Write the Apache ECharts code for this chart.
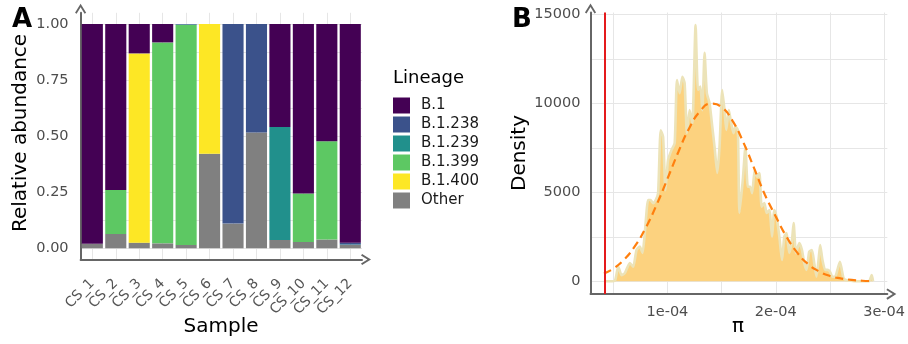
<!DOCTYPE html>
<html><head><meta charset="utf-8">
<script src="https://cdn.jsdelivr.net/npm/echarts/dist/echarts.min.js"></script>
<style>html,body{margin:0;padding:0;background:#fff}#c{width:908px;height:344px}</style>
</head><body><div id="c"></div>
<script>
// ---------- Panel A data ----------
const samples = ['CS_1','CS_2','CS_3','CS_4','CS_5','CS_6','CS_7','CS_8','CS_9','CS_10','CS_11','CS_12'];
const legendOrder = ['B.1','B.1.238','B.1.239','B.1.399','B.1.400','Other'];
const abOther  = [0.020,0.064,0.025,0.022,0.015,0.422,0.110,0.516,0.037,0.028,0.039,0.015];
const abB1400  = [0,0,0.844,0,0,0.578,0,0,0,0,0,0];
const abB1399  = [0,0.196,0,0.896,0.981,0,0,0,0,0.216,0.438,0];
const abB1239  = [0,0,0,0,0.002,0,0,0,0.504,0,0,0.002];
const abB1238  = [0,0,0,0,0.002,0,0.890,0.484,0,0,0,0.008];
const abB1     = [0.980,0.740,0.131,0.082,0,0,0,0,0.459,0.756,0.523,0.975];
const yLabelsA = [0,0.25,0.5,0.75,1];
const yGridA   = [0,0.125,0.25,0.375,0.5,0.625,0.75,0.875,1];

// ---------- Panel B data (pi in units of 1e-4) ----------
const piE4 = [0.414,0.469,0.515,0.546,0.577,0.607,0.653,0.684,0.715,0.745,
  0.770,0.791,0.822,0.844,0.868,0.892,0.914,0.938,0.960,0.982,
  1.006,1.037,1.067,1.088,1.113,1.138,1.159,1.180,1.205,1.230,
  1.260,1.282,1.304,1.322,1.343,1.364,1.389,1.414,1.435,1.460,
  1.481,1.506,1.527,1.543,1.567,1.589,1.610,1.628,1.650,1.665,
  1.696,1.720,1.742,1.764,1.782,1.806,1.828,1.849,1.870,1.895,
  1.916,1.941,1.966,1.987,2.008,2.033,2.058,2.079,2.100,2.125,
  2.150,2.165,2.187,2.217,2.242,2.263,2.284,2.309,2.334,2.355,
  2.376,2.395,2.410,2.431,2.456,2.477,2.500,2.523,2.548,2.569,
  2.592,2.610,2.625,2.647,2.677,2.739,2.831,2.861,2.886,2.898];
const density = [0,0,30,820,350,460,1030,820,1760,1950,
  1600,2700,4570,4570,4400,4570,4960,8500,8130,5130,
  6820,7380,7770,11320,10580,11510,11130,8330,9630,8890,
  14410,10760,10950,9630,12850,10580,10020,8700,7560,6100,
  7560,10760,9630,8510,9630,8890,8330,8700,8510,3840,
  5700,7570,5320,5320,4960,6260,5880,6090,4200,4400,
  3840,4010,2510,4010,3630,2510,1200,2510,2710,1590,
  2320,3270,1590,2150,1760,1030,640,1670,1760,1030,
  260,1200,2040,1200,640,640,540,260,260,640,
  1100,640,190,70,50,0,0,0,350,0];
const normPiE4 = [0.414,0.5,0.6,0.7,0.8,0.9,1.0,1.1,1.2,1.3,1.4,1.5,1.6,1.7,1.8,1.9,2.0,2.1,2.2,2.3,2.4,2.5,2.6,2.7,2.8,2.9];
const normDens = [440,710,1220,1980,3010,4300,5760,7260,8600,9560,9990,9800,9040,7830,6370,4870,3650,2500,1600,960,560,300,160,80,30,12];
const refPiE4 = [0.417];
const xLabelsB = [1,2,3];
const xGridB = [0.5,1,1.5,2,2.5,3];
const yLabelsB = [0,5000,10000,15000];
const yGridB = [0,2500,5000,7500,10000,12500,15000];

// ---------- styling ----------
const FONT = 'DejaVu Sans';
const AX = '#666666';
const GRID = '#e6e6e6';
const TICK = '#4d4d4d';
const colorMap = {'B.1':'#440154','B.1.238':'#3B528B','B.1.239':'#21908C','B.1.399':'#5DC863','B.1.400':'#FDE725','Other':'#808080'};
const chevron = 'path://M5,0 L10,8 L8.6,9 L5,3.2 L1.4,9 L0,8 Z';
const axisLineArrow = {show:true, onZero:false, lineStyle:{color:AX, width:2}, symbol:['none', chevron], symbolSize:[13,10], symbolOffset:[0,4]};

const stackSeries = [
  ['Other', abOther], ['B.1.400', abB1400], ['B.1.399', abB1399],
  ['B.1.239', abB1239], ['B.1.238', abB1238], ['B.1', abB1]
].map(([name, vals]) => ({
  name, type:'bar', stack:'ab', xAxisIndex:0, yAxisIndex:0, barWidth:'90%',
  itemStyle:{color:colorMap[name]}, data:vals
}));

const chart = echarts.init(document.getElementById('c'), null, {renderer:'canvas'});
chart.setOption({
  animation:false,
  backgroundColor:'#ffffff',
  textStyle:{fontFamily:FONT},
  grid:[
    {left:80.6, top:12.8, width:281.4, height:246.7},
    {left:590.5, top:12.5, width:298, height:281.6}
  ],
  legend:{
    data:legendOrder, orient:'vertical', left:393, top:97.5, padding:0,
    itemWidth:17, itemHeight:16, itemGap:3, icon:'rect',
    textStyle:{fontFamily:FONT, fontSize:15, color:'#1a1a1a', padding:[0,0,0,6]}
  },
  xAxis:[
    {type:'category', gridIndex:0, data:samples, axisLine:axisLineArrow,
     axisTick:{show:false}, splitLine:{show:false},
     axisLabel:{rotate:45, interval:0, fontSize:14, color:'#555', margin:22, fontFamily:FONT}},
    {type:'value', gridIndex:0, min:0.5, max:12.5, axisLine:{show:false},
     axisLabel:{show:false}, axisTick:{show:false, customValues:samples.map((s,i)=>i+1)},
     splitLine:{show:true, lineStyle:{color:GRID, width:1}}},
    {type:'value', gridIndex:1, min:0.29, max:3.03, axisLine:axisLineArrow,
     axisTick:{show:false, customValues:xGridB},
     axisLabel:{customValues:xLabelsB, formatter:v=>v+'e-04', fontSize:14.5, color:TICK, margin:11, fontFamily:FONT},
     splitLine:{show:true, lineStyle:{color:GRID, width:1}}}
  ],
  yAxis:[
    {type:'value', gridIndex:0, min:-0.05, max:1.05, axisLine:axisLineArrow,
     axisTick:{show:false, customValues:yGridA},
     axisLabel:{customValues:yLabelsA, formatter:v=>v.toFixed(2), fontSize:14.5, color:TICK, margin:12, fontFamily:FONT},
     splitLine:{show:true, lineStyle:{color:GRID, width:1}}},
    {type:'value', gridIndex:1, min:-720, max:15120, axisLine:axisLineArrow,
     axisTick:{show:false, customValues:yGridB},
     axisLabel:{customValues:yLabelsB, formatter:v=>String(v), fontSize:14.5, color:TICK, margin:10, fontFamily:FONT},
     splitLine:{show:true, lineStyle:{color:GRID, width:1}}}
  ],
  series:[
    ...stackSeries,
    {name:'density', type:'line', xAxisIndex:2, yAxisIndex:1, showSymbol:false, smooth:0.2,
     data:piE4.map((p,i)=>[p, density[i]]),
     lineStyle:{color:'#ECE3B8', width:2.6}, areaStyle:{color:'#FCD27F', opacity:1}, z:2},
    {name:'normal', type:'line', xAxisIndex:2, yAxisIndex:1, showSymbol:false, smooth:true,
     data:normPiE4.map((p,i)=>[p, normDens[i]]),
     lineStyle:{color:'#FF7F0E', width:2.2, type:[8,5]}, z:3},
    {name:'ref', type:'line', xAxisIndex:2, yAxisIndex:1, data:[], z:4,
     markLine:{silent:true, symbol:['none','none'], label:{show:false},
       lineStyle:{color:'#E41A1C', width:2, type:'solid'},
       data:refPiE4.map(v=>({xAxis:v}))}}
  ],
  graphic:[
    {type:'text', left:12, top:7, style:{text:'A', font:'bold 26px "DejaVu Sans"', fill:'#000'}},
    {type:'text', left:512, top:7, style:{text:'B', font:'bold 26px "DejaVu Sans"', fill:'#000'}},
    {type:'text', x:21, y:133, rotation:Math.PI/2, style:{text:'Relative abundance', font:'20px "DejaVu Sans"', fill:'#000', align:'center', verticalAlign:'middle'}},
    {type:'text', x:221, y:327, style:{text:'Sample', font:'20px "DejaVu Sans"', fill:'#000', align:'center', verticalAlign:'middle'}},
    {type:'text', x:520, y:153, rotation:Math.PI/2, style:{text:'Density', font:'20px "DejaVu Sans"', fill:'#000', align:'center', verticalAlign:'middle'}},
    {type:'text', x:738, y:327, style:{text:'π', font:'20px "DejaVu Sans"', fill:'#000', align:'center', verticalAlign:'middle'}},
    {type:'text', left:393, top:69, style:{text:'Lineage', font:'18px "DejaVu Sans"', fill:'#000'}}
  ]
});
</script>
</body></html>
